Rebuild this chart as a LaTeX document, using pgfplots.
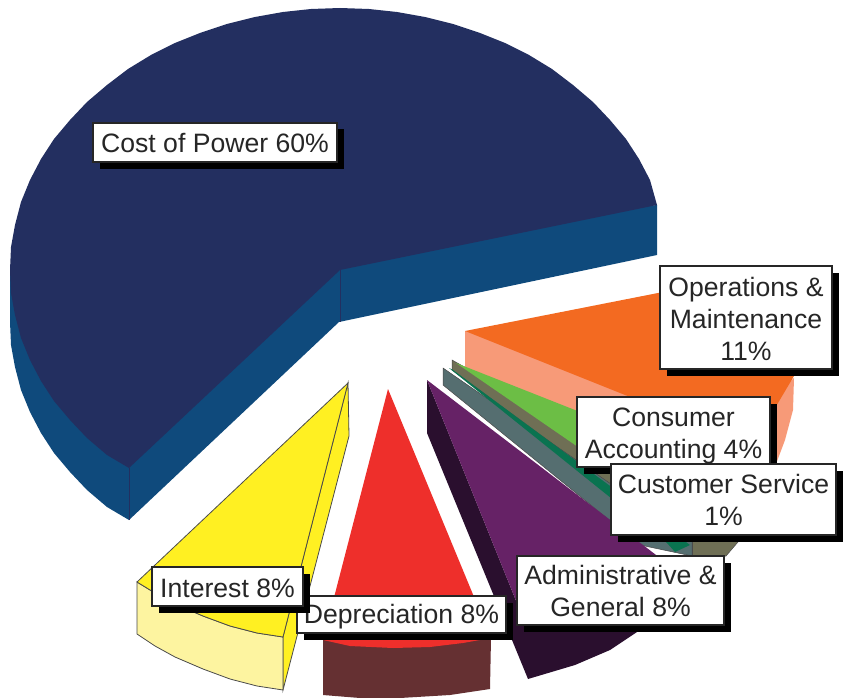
\documentclass[border=0pt]{standalone}
\usepackage{fontspec}
\setmainfont{Liberation Sans}
\usepackage{pgfplots}
\pgfplotsset{compat=1.18}
\definecolor{navy}{HTML}{232F60}
\definecolor{navyside}{HTML}{0F4A7C}
\definecolor{orangeT}{HTML}{F36A21}
\definecolor{peach}{HTML}{F79A78}
\definecolor{greenT}{HTML}{6CBE45}
\definecolor{taupe}{HTML}{6F6F55}
\definecolor{dgreen}{HTML}{0A7350}
\definecolor{slate}{HTML}{556E70}
\definecolor{purpleT}{HTML}{662266}
\definecolor{purpleS}{HTML}{2A0F2E}
\definecolor{redT}{HTML}{EE2F2B}
\definecolor{brownS}{HTML}{653032}
\definecolor{yellowT}{HTML}{FFF022}
\definecolor{yellowS}{HTML}{FDF4A0}
\definecolor{edge}{HTML}{4A4A4A}
\newcommand{\lbl}[6][0]{%
  \fill[black] (axis cs:#2+6.5,#3+6.5) rectangle (axis cs:#4+6.5,#5+6.5);
  \draw[fill=white,draw=black!85,line width=1.5pt] (axis cs:#2,#3) rectangle (axis cs:#4,#5);
  \node[align=center,inner sep=0pt,text=black!85,font=\fontsize{26.6}{32}\selectfont] at (axis cs:{(#2+#4)/2},{(#3+#5)/2+#1}) {#6};
}
\begin{document}
\begin{tikzpicture}
\begin{axis}[hide axis,scale only axis,width=843pt,height=698pt,
  xmin=0,xmax=843,ymin=0,ymax=698,y dir=reverse,clip=true]
\path (axis cs:0,0) rectangle (axis cs:843,698);
% Cost of Power side
\addplot[fill=navyside,draw=none] coordinates {(657,205)(657,255)(339,322)(129,520)(107,507)(87,490)(70,472)(54,453)(41,433)(30,412)(21,390)(15,367)(11,345)(10,322)(10,270)} -- cycle;
% Cost of Power top
\addplot[fill=navy,draw=none] coordinates {(340,270)(657,205)(650,180)(639,159)(626,139)(610,120)(593,102)(573,85)(552,69)(529,55)(505,43)(480,33)(453,24)(425,17)(397,12)(369,9)(340,8)(311,9)(283,12)(255,17)(227,24)(200,33)(175,43)(151,55)(128,69)(107,85)(87,102)(70,120)(54,139)(41,159)(30,180)(21,202)(15,225)(11,247)(10,270)(11,293)(15,315)(21,338)(30,360)(41,381)(54,401)(70,420)(87,438)(107,455)(129,468)} -- cycle;
\addplot[draw=navy,line width=0.7pt] coordinates {(129,468)(129,520)};
\addplot[draw=navy,line width=0.7pt] coordinates {(340,270)(340,322)};
% Operations
\addplot[fill=peach,draw=none] coordinates {(465,331)(465,380)(640,470)(770,480)(785,440)(793,410)(794,378)(780,390)} -- cycle;
\addplot[fill=orangeT,draw=none] coordinates {(465,331)(790,267)(794,376)(775,408)(750,440)(625,395)} -- cycle;
% Consumer Accounting
\addplot[fill=taupe,draw=edge,line width=0.5pt] coordinates {(452,360)(452,370)(692,546)(692,556)(726,556)(738,542)(700,500)} -- cycle;
\addplot[fill=greenT,draw=none] coordinates {(456,363)(580,412)(625,480)(578,447)} -- cycle;
% Customer Service
\addplot[fill=slate,draw=edge,line width=0.5pt] coordinates {(443,368)(443,385)(640,545)(692,556)(692,540)} -- cycle;
\addplot[fill=dgreen,draw=none] coordinates {(449,368)(667,543)(675,552)(690,545)(453,370)} -- cycle;
\addplot[draw=edge,line width=0.5pt] coordinates {(692,530)(692,556)};
% Administrative
\addplot[fill=purpleS,draw=none] coordinates {(427,380)(427,433)(528,679)(575,665)(610,650)(637,632)(660,600)(527,628)} -- cycle;
\addplot[fill=purpleT,draw=none] coordinates {(427,380)(660,558)(650,575)(620,600)(527,628)} -- cycle;
% Depreciation
\addplot[fill=brownS,draw=none] coordinates {(323,640)(323,695)(360,698)(400,698)(450,695)(490,689)(491,638)} -- cycle;
\addplot[fill=redT,draw=none] coordinates {(388,389)(323,640)(350,646)(393,648)(430,647)(463,643)(491,638)} -- cycle;
% Interest
\addplot[fill=yellowT,draw=edge,line width=0.8pt] coordinates {(348,383)(349,436)(283,690)(283,637)} -- cycle;
\addplot[fill=yellowS,draw=edge,line width=0.8pt] coordinates {(137,582)(137,634)(155,646)(175,657)(203,669)(230,679)(257,686)(283,690)(283,637)(257,633)(230,626)(203,616)(175,604)(155,593)} -- cycle;
\addplot[fill=yellowT,draw=edge,line width=0.8pt] coordinates {(348,383)(137,582)(155,593)(175,604)(203,616)(230,626)(257,633)(283,637)} -- cycle;
% Labels
\lbl[1]{93}{123}{337}{162}{Cost of Power 60\%}
\lbl[1]{660}{266}{832}{369}{Operations \&\\Maintenance\\11\%}
\lbl[4]{577}{397}{770}{467}{Consumer\\Accounting 4\%}
\lbl{611}{464}{836}{535}{Customer Service\\1\%}
\lbl{517}{556}{724}{625}{Administrative \&\\General 8\%}
\lbl[2]{297}{596}{506}{633}{Depreciation 8\%}
\lbl[2]{152}{567}{303}{606}{Interest 8\%}
\end{axis}
\end{tikzpicture}
\end{document}
